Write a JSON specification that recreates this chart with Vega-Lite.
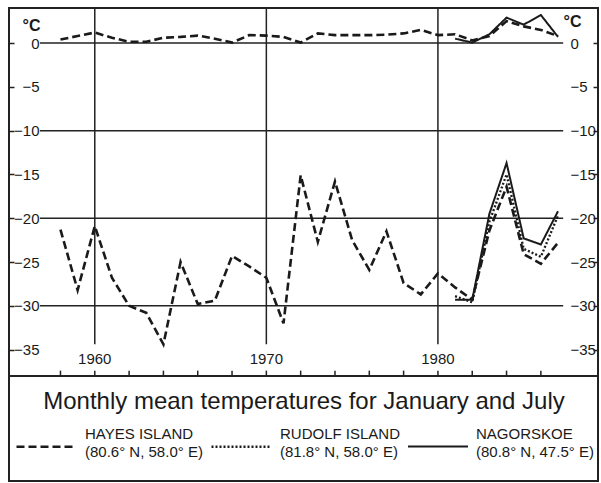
{
  "$schema": "https://vega.github.io/schema/vega-lite/v6.json",
  "width": 589,
  "height": 473,
  "autosize": {"type": "none"},
  "padding": {"left": 9, "top": 8, "right": 3, "bottom": 2},
  "background": "white",
  "config": {
    "font": "Liberation Sans",
    "view": {"stroke": "#222222", "strokeWidth": 2}
  },
  "datasets": {
    "lines": [
      {"s": "HAYES ISLAND|(80.6° N, 58.0° E)", "m": "Jan", "yr": 1958, "t": -21.3},
      {"s": "HAYES ISLAND|(80.6° N, 58.0° E)", "m": "Jan", "yr": 1959, "t": -28.2},
      {"s": "HAYES ISLAND|(80.6° N, 58.0° E)", "m": "Jan", "yr": 1960, "t": -20.9},
      {"s": "HAYES ISLAND|(80.6° N, 58.0° E)", "m": "Jan", "yr": 1961, "t": -26.8},
      {"s": "HAYES ISLAND|(80.6° N, 58.0° E)", "m": "Jan", "yr": 1962, "t": -30.0},
      {"s": "HAYES ISLAND|(80.6° N, 58.0° E)", "m": "Jan", "yr": 1963, "t": -30.8},
      {"s": "HAYES ISLAND|(80.6° N, 58.0° E)", "m": "Jan", "yr": 1964, "t": -34.4},
      {"s": "HAYES ISLAND|(80.6° N, 58.0° E)", "m": "Jan", "yr": 1965, "t": -25.0},
      {"s": "HAYES ISLAND|(80.6° N, 58.0° E)", "m": "Jan", "yr": 1966, "t": -29.8},
      {"s": "HAYES ISLAND|(80.6° N, 58.0° E)", "m": "Jan", "yr": 1967, "t": -29.4},
      {"s": "HAYES ISLAND|(80.6° N, 58.0° E)", "m": "Jan", "yr": 1968, "t": -24.3},
      {"s": "HAYES ISLAND|(80.6° N, 58.0° E)", "m": "Jan", "yr": 1969, "t": -25.5},
      {"s": "HAYES ISLAND|(80.6° N, 58.0° E)", "m": "Jan", "yr": 1970, "t": -26.8},
      {"s": "HAYES ISLAND|(80.6° N, 58.0° E)", "m": "Jan", "yr": 1971, "t": -32.0},
      {"s": "HAYES ISLAND|(80.6° N, 58.0° E)", "m": "Jan", "yr": 1972, "t": -15.1},
      {"s": "HAYES ISLAND|(80.6° N, 58.0° E)", "m": "Jan", "yr": 1973, "t": -22.7},
      {"s": "HAYES ISLAND|(80.6° N, 58.0° E)", "m": "Jan", "yr": 1974, "t": -15.8},
      {"s": "HAYES ISLAND|(80.6° N, 58.0° E)", "m": "Jan", "yr": 1975, "t": -22.5},
      {"s": "HAYES ISLAND|(80.6° N, 58.0° E)", "m": "Jan", "yr": 1976, "t": -25.9},
      {"s": "HAYES ISLAND|(80.6° N, 58.0° E)", "m": "Jan", "yr": 1977, "t": -21.5},
      {"s": "HAYES ISLAND|(80.6° N, 58.0° E)", "m": "Jan", "yr": 1978, "t": -27.4},
      {"s": "HAYES ISLAND|(80.6° N, 58.0° E)", "m": "Jan", "yr": 1979, "t": -28.7},
      {"s": "HAYES ISLAND|(80.6° N, 58.0° E)", "m": "Jan", "yr": 1980, "t": -26.3},
      {"s": "HAYES ISLAND|(80.6° N, 58.0° E)", "m": "Jan", "yr": 1981, "t": -27.9},
      {"s": "HAYES ISLAND|(80.6° N, 58.0° E)", "m": "Jan", "yr": 1982, "t": -29.3},
      {"s": "HAYES ISLAND|(80.6° N, 58.0° E)", "m": "Jan", "yr": 1983, "t": -21.4},
      {"s": "HAYES ISLAND|(80.6° N, 58.0° E)", "m": "Jan", "yr": 1984, "t": -16.4},
      {"s": "HAYES ISLAND|(80.6° N, 58.0° E)", "m": "Jan", "yr": 1985, "t": -24.1},
      {"s": "HAYES ISLAND|(80.6° N, 58.0° E)", "m": "Jan", "yr": 1986, "t": -25.2},
      {"s": "HAYES ISLAND|(80.6° N, 58.0° E)", "m": "Jan", "yr": 1987, "t": -22.8},
      {"s": "HAYES ISLAND|(80.6° N, 58.0° E)", "m": "Jul", "yr": 1958, "t": 0.4},
      {"s": "HAYES ISLAND|(80.6° N, 58.0° E)", "m": "Jul", "yr": 1959, "t": 0.8},
      {"s": "HAYES ISLAND|(80.6° N, 58.0° E)", "m": "Jul", "yr": 1960, "t": 1.2},
      {"s": "HAYES ISLAND|(80.6° N, 58.0° E)", "m": "Jul", "yr": 1961, "t": 0.6},
      {"s": "HAYES ISLAND|(80.6° N, 58.0° E)", "m": "Jul", "yr": 1962, "t": 0.15},
      {"s": "HAYES ISLAND|(80.6° N, 58.0° E)", "m": "Jul", "yr": 1963, "t": 0.15},
      {"s": "HAYES ISLAND|(80.6° N, 58.0° E)", "m": "Jul", "yr": 1964, "t": 0.6},
      {"s": "HAYES ISLAND|(80.6° N, 58.0° E)", "m": "Jul", "yr": 1965, "t": 0.7},
      {"s": "HAYES ISLAND|(80.6° N, 58.0° E)", "m": "Jul", "yr": 1966, "t": 0.85},
      {"s": "HAYES ISLAND|(80.6° N, 58.0° E)", "m": "Jul", "yr": 1967, "t": 0.5},
      {"s": "HAYES ISLAND|(80.6° N, 58.0° E)", "m": "Jul", "yr": 1968, "t": 0.05},
      {"s": "HAYES ISLAND|(80.6° N, 58.0° E)", "m": "Jul", "yr": 1969, "t": 0.9},
      {"s": "HAYES ISLAND|(80.6° N, 58.0° E)", "m": "Jul", "yr": 1970, "t": 0.85},
      {"s": "HAYES ISLAND|(80.6° N, 58.0° E)", "m": "Jul", "yr": 1971, "t": 0.7},
      {"s": "HAYES ISLAND|(80.6° N, 58.0° E)", "m": "Jul", "yr": 1972, "t": 0.05},
      {"s": "HAYES ISLAND|(80.6° N, 58.0° E)", "m": "Jul", "yr": 1973, "t": 1.1},
      {"s": "HAYES ISLAND|(80.6° N, 58.0° E)", "m": "Jul", "yr": 1974, "t": 0.9},
      {"s": "HAYES ISLAND|(80.6° N, 58.0° E)", "m": "Jul", "yr": 1975, "t": 0.9},
      {"s": "HAYES ISLAND|(80.6° N, 58.0° E)", "m": "Jul", "yr": 1976, "t": 0.9},
      {"s": "HAYES ISLAND|(80.6° N, 58.0° E)", "m": "Jul", "yr": 1977, "t": 0.95},
      {"s": "HAYES ISLAND|(80.6° N, 58.0° E)", "m": "Jul", "yr": 1978, "t": 1.1},
      {"s": "HAYES ISLAND|(80.6° N, 58.0° E)", "m": "Jul", "yr": 1979, "t": 1.5},
      {"s": "HAYES ISLAND|(80.6° N, 58.0° E)", "m": "Jul", "yr": 1980, "t": 0.9},
      {"s": "HAYES ISLAND|(80.6° N, 58.0° E)", "m": "Jul", "yr": 1981, "t": 1.0},
      {"s": "HAYES ISLAND|(80.6° N, 58.0° E)", "m": "Jul", "yr": 1982, "t": 0.3},
      {"s": "HAYES ISLAND|(80.6° N, 58.0° E)", "m": "Jul", "yr": 1983, "t": 0.8},
      {"s": "HAYES ISLAND|(80.6° N, 58.0° E)", "m": "Jul", "yr": 1984, "t": 2.5},
      {"s": "HAYES ISLAND|(80.6° N, 58.0° E)", "m": "Jul", "yr": 1985, "t": 1.9},
      {"s": "HAYES ISLAND|(80.6° N, 58.0° E)", "m": "Jul", "yr": 1986, "t": 1.5},
      {"s": "HAYES ISLAND|(80.6° N, 58.0° E)", "m": "Jul", "yr": 1987, "t": 0.8},
      {"s": "NAGORSKOE|(80.8° N, 47.5° E)", "m": "Jan", "yr": 1981, "t": -29.3},
      {"s": "NAGORSKOE|(80.8° N, 47.5° E)", "m": "Jan", "yr": 1982, "t": -29.3},
      {"s": "NAGORSKOE|(80.8° N, 47.5° E)", "m": "Jan", "yr": 1983, "t": -19.5},
      {"s": "NAGORSKOE|(80.8° N, 47.5° E)", "m": "Jan", "yr": 1984, "t": -13.7},
      {"s": "NAGORSKOE|(80.8° N, 47.5° E)", "m": "Jan", "yr": 1985, "t": -22.3},
      {"s": "NAGORSKOE|(80.8° N, 47.5° E)", "m": "Jan", "yr": 1986, "t": -23.0},
      {"s": "NAGORSKOE|(80.8° N, 47.5° E)", "m": "Jan", "yr": 1987, "t": -19.2},
      {"s": "NAGORSKOE|(80.8° N, 47.5° E)", "m": "Jul", "yr": 1981, "t": 0.5},
      {"s": "NAGORSKOE|(80.8° N, 47.5° E)", "m": "Jul", "yr": 1982, "t": 0.05},
      {"s": "NAGORSKOE|(80.8° N, 47.5° E)", "m": "Jul", "yr": 1983, "t": 1.0},
      {"s": "NAGORSKOE|(80.8° N, 47.5° E)", "m": "Jul", "yr": 1984, "t": 2.9},
      {"s": "NAGORSKOE|(80.8° N, 47.5° E)", "m": "Jul", "yr": 1985, "t": 2.1},
      {"s": "NAGORSKOE|(80.8° N, 47.5° E)", "m": "Jul", "yr": 1986, "t": 3.2},
      {"s": "NAGORSKOE|(80.8° N, 47.5° E)", "m": "Jul", "yr": 1987, "t": 0.7},
      {"s": "RUDOLF ISLAND|(81.8° N, 58.0° E)", "m": "Jan", "yr": 1981, "t": -28.9},
      {"s": "RUDOLF ISLAND|(81.8° N, 58.0° E)", "m": "Jan", "yr": 1982, "t": -29.6},
      {"s": "RUDOLF ISLAND|(81.8° N, 58.0° E)", "m": "Jan", "yr": 1983, "t": -20.4},
      {"s": "RUDOLF ISLAND|(81.8° N, 58.0° E)", "m": "Jan", "yr": 1984, "t": -15.0},
      {"s": "RUDOLF ISLAND|(81.8° N, 58.0° E)", "m": "Jan", "yr": 1985, "t": -23.5},
      {"s": "RUDOLF ISLAND|(81.8° N, 58.0° E)", "m": "Jan", "yr": 1986, "t": -24.4},
      {"s": "RUDOLF ISLAND|(81.8° N, 58.0° E)", "m": "Jan", "yr": 1987, "t": -19.7}
    ],
    "decades": [{"g": 1960}, {"g": 1970}, {"g": 1980}],
    "ticks": [
      {"g": 1958}, {"g": 1960}, {"g": 1962}, {"g": 1964}, {"g": 1966}, {"g": 1968}, {"g": 1970}, {"g": 1972},
      {"g": 1974}, {"g": 1976}, {"g": 1978}, {"g": 1980}, {"g": 1982}, {"g": 1984}, {"g": 1986}
    ]
  },
  "resolve": {"axis": {"y": "independent"}},
  "layer": [
    {
      "data": {"values": [{"v": 0}, {"v": -10}, {"v": -20}, {"v": -30}]},
      "mark": {"type": "rule", "color": "#222222", "strokeWidth": 1.5},
      "encoding": {
        "y": {
          "field": "v", "type": "quantitative",
          "scale": {"domain": [-50, 4], "nice": false, "zero": false},
          "axis": {
            "orient": "right", "values": [0, -5, -10, -15, -20, -25, -30, -35],
            "domain": false, "grid": false,
            "tickSize": -5, "tickWidth": 1.5, "tickColor": "#222222",
            "labelAlign": "left", "labelBaseline": "middle", "labelPadding": -23,
            "labelFontSize": 15, "labelColor": "#1a1a1a", "labelOverlap": false, "labelFlush": false,
            "title": "°C", "titleAngle": 0, "titleX": -26, "titleY": 13,
            "titleAlign": "center", "titleBaseline": "middle",
            "titleFontSize": 16, "titleFontWeight": "bold", "titleColor": "#1a1a1a"
          }
        },
        "x": {"datum": 1956.8, "type": "quantitative", "scale": {"domain": [1955, 1989.33], "nice": false, "zero": false}, "axis": null},
        "x2": {"datum": 1987.3}
      }
    },
    {
      "data": {"name": "decades"},
      "mark": {"type": "rule", "color": "#222222", "strokeWidth": 1.5},
      "encoding": {
        "x": {"field": "g", "type": "quantitative", "scale": {"domain": [1955, 1989.33], "nice": false, "zero": false}, "axis": null},
        "y": {"datum": 4, "type": "quantitative", "scale": {"domain": [-50, 4], "nice": false, "zero": false}, "axis": null},
        "y2": {"datum": -34.4}
      }
    },
    {
      "data": {"name": "decades"},
      "mark": {"type": "text", "fontSize": 15, "color": "#1a1a1a", "align": "center", "baseline": "alphabetic"},
      "encoding": {
        "x": {"field": "g", "type": "quantitative", "scale": {"domain": [1955, 1989.33], "nice": false, "zero": false}, "axis": null},
        "y": {"datum": -36.65, "type": "quantitative", "scale": {"domain": [-50, 4], "nice": false, "zero": false}, "axis": null},
        "text": {"field": "g", "type": "quantitative", "format": "d"}
      }
    },
    {
      "data": {"name": "ticks"},
      "mark": {"type": "rule", "color": "#222222", "strokeWidth": 1.5},
      "encoding": {
        "x": {"field": "g", "type": "quantitative", "scale": {"domain": [1955, 1989.33], "nice": false, "zero": false}, "axis": null},
        "y": {"datum": -38, "type": "quantitative", "scale": {"domain": [-50, 4], "nice": false, "zero": false}, "axis": null},
        "y2": {"datum": -37.4}
      }
    },
    {
      "data": {"values": [{"edge": "separator"}]},
      "mark": {"type": "rule", "color": "#222222", "strokeWidth": 2},
      "encoding": {
        "x": {"datum": 1955, "type": "quantitative", "scale": {"domain": [1955, 1989.33], "nice": false, "zero": false}, "axis": null},
        "x2": {"datum": 1989.33},
        "y": {"datum": -38, "type": "quantitative", "scale": {"domain": [-50, 4], "nice": false, "zero": false}, "axis": null}
      }
    },
    {
      "data": {"name": "lines"},
      "mark": {"type": "line", "color": "#1a1a1a"},
      "encoding": {
        "x": {
          "field": "yr", "type": "quantitative",
          "scale": {"domain": [1955, 1989.33], "nice": false, "zero": false},
          "axis": null
        },
        "y": {
          "field": "t", "type": "quantitative",
          "scale": {"domain": [-50, 4], "nice": false, "zero": false},
          "axis": {
            "orient": "left", "values": [0, -5, -10, -15, -20, -25, -30, -35],
            "domain": false, "grid": false,
            "tickSize": -5, "tickWidth": 1.5, "tickColor": "#222222",
            "labelAlign": "right", "labelBaseline": "middle", "labelPadding": -25,
            "labelFontSize": 15, "labelColor": "#1a1a1a", "labelOverlap": false, "labelFlush": false,
            "title": "°C", "titleAngle": 0, "titleX": 22, "titleY": 17,
            "titleAlign": "center", "titleBaseline": "middle",
            "titleFontSize": 16, "titleFontWeight": "bold", "titleColor": "#1a1a1a"
          }
        },
        "detail": {"field": "m"},
        "strokeDash": {
          "field": "s", "type": "nominal",
          "scale": {
            "domain": ["HAYES ISLAND|(80.6° N, 58.0° E)", "RUDOLF ISLAND|(81.8° N, 58.0° E)", "NAGORSKOE|(80.8° N, 47.5° E)"],
            "range": [[8, 4], [2, 2], [1, 0]]
          },
          "legend": {
            "orient": "none", "legendX": 6, "legendY": 382, "direction": "horizontal",
            "title": "Monthly mean temperatures for January and July",
            "titleFontSize": 24, "titleFontWeight": "normal", "titleAnchor": "middle", "titlePadding": 1,
            "titleColor": "#1a1a1a", "titleLimit": 0,
            "labelExpr": "split(datum.label, '|')",
            "labelFontSize": 15, "labelColor": "#1a1a1a", "labelOffset": 7, "labelLimit": 200,
            "symbolType": "stroke", "symbolSize": 3600, "symbolStrokeWidth": 2.6, "symbolStrokeColor": "#1a1a1a",
            "columnPadding": 3, "padding": 0,
            "encode": {"labels": {"update": {"lineHeight": {"value": 18}, "dy": {"value": -13}}}}
          }
        },
        "strokeWidth": {
          "field": "s", "type": "nominal",
          "scale": {
            "domain": ["HAYES ISLAND|(80.6° N, 58.0° E)", "RUDOLF ISLAND|(81.8° N, 58.0° E)", "NAGORSKOE|(80.8° N, 47.5° E)"],
            "range": [2.6, 2, 3.2]
          },
          "legend": null
        }
      }
    }
  ]
}
